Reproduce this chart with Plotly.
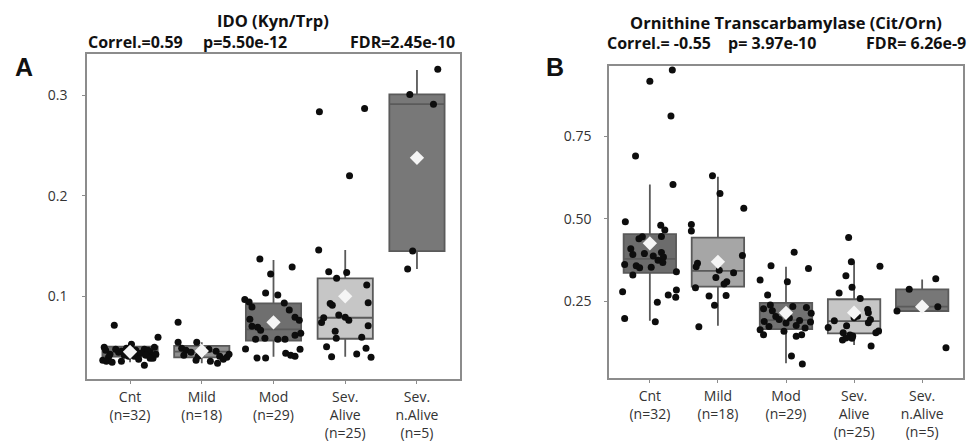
import plotly.graph_objects as go

# ---------------- data ----------------
categories = ["Cnt", "Mild", "Mod", "Sev. Alive", "Sev. n.Alive"]
tick_labels = ["Cnt<br>(n=32)", "Mild<br>(n=18)", "Mod<br>(n=29)",
               "Sev.<br>Alive<br>(n=25)", "Sev.<br>n.Alive<br>(n=5)"]

# Panel A : IDO (Kyn/Trp) box statistics
A_q1 = [0.0396, 0.0390, 0.0556, 0.0575, 0.1448]
A_median = [0.0440, 0.0446, 0.0668, 0.0784, 0.2910]
A_q3 = [0.0496, 0.0503, 0.0927, 0.1176, 0.3007]
A_lower = [0.0340, 0.0330, 0.0396, 0.0396, 0.1270]
A_upper = [0.0550, 0.0540, 0.1360, 0.1458, 0.3250]
A_mean = [0.0445, 0.0453, 0.0738, 0.0997, 0.2376]

# Panel A individual samples (value, horizontal jitter)
A_cnt = [0.071, 0.059, 0.052, 0.049, 0.046, 0.047, 0.045, 0.048, 0.043, 0.047, 0.044,
         0.049, 0.046, 0.042, 0.041, 0.040, 0.043, 0.038, 0.039, 0.045, 0.041, 0.036,
         0.035, 0.034, 0.035, 0.031, 0.037, 0.042, 0.044, 0.040, 0.046, 0.038]
A_cnt_jit = [-0.22, 0.39, 0.02, -0.36, -0.34, -0.20, -0.12, -0.05, 0.10, 0.20, 0.28,
             0.34, 0.25, -0.28, -0.08, 0.06, 0.15, 0.32, -0.30, 0.00, 0.22, -0.38,
             -0.33, -0.25, -0.12, 0.20, 0.12, 0.36, -0.16, -0.02, 0.08, 0.28]
A_mild = [0.074, 0.054, 0.054, 0.048, 0.046, 0.044, 0.041, 0.040, 0.036, 0.043, 0.047,
          0.045, 0.040, 0.037, 0.039, 0.042, 0.033, 0.035]
A_mild_jit = [-0.33, -0.33, -0.07, -0.28, -0.22, -0.15, -0.25, -0.05, -0.08, 0.00, 0.10,
              0.20, 0.25, 0.30, 0.35, 0.38, 0.22, 0.12]
A_mod = [0.137, 0.129, 0.122, 0.103, 0.101, 0.0965, 0.094, 0.093, 0.089, 0.086, 0.079,
         0.077, 0.076, 0.070, 0.069, 0.066, 0.063, 0.061, 0.058, 0.057, 0.057, 0.057,
         0.0473, 0.047, 0.043, 0.041, 0.040, 0.0383, 0.0383]
A_mod_jit = [-0.19, 0.26, -0.04, -0.11, 0.06, -0.40, -0.34, 0.15, -0.30, 0.22, 0.30,
             -0.33, 0.36, -0.30, -0.22, -0.18, 0.38, 0.30, -0.12, -0.25, 0.06, 0.16,
             -0.39, 0.37, 0.17, 0.24, 0.30, -0.23, -0.11]
A_sevA = [0.2834, 0.2867, 0.2197, 0.1458, 0.1242, 0.1235, 0.1176, 0.111, 0.0926, 0.0909,
          0.0932, 0.0812, 0.0789, 0.0785, 0.0736, 0.0703, 0.065, 0.058, 0.059, 0.0496,
          0.048, 0.0423, 0.0396, 0.039, 0.076]
A_sevA_jit = [-0.36, 0.27, 0.06, -0.37, -0.23, 0.02, -0.12, 0.30, -0.21, -0.18,
              0.32, -0.09, 0.00, -0.30, -0.33, 0.32, -0.14, -0.125, 0.23, -0.26,
              0.29, 0.16, -0.19, 0.36, 0.05]
A_sevN = [0.3259, 0.3007, 0.2910, 0.1448, 0.1269]
A_sevN_jit = [0.29, -0.10, 0.23, -0.06, -0.13]

# Panel B : Ornithine Transcarbamylase (Cit/Orn) box statistics
B_q1 = [0.337, 0.295, 0.167, 0.154, 0.2215]
B_median = [0.379, 0.343, 0.194, 0.191, 0.2345]
B_q3 = [0.454, 0.443, 0.246, 0.257, 0.287]
B_lower = [0.192, 0.177, 0.0634, 0.119, 0.2215]
B_upper = [0.604, 0.627, 0.355, 0.370, 0.317]
B_mean = [0.426, 0.370, 0.216, 0.2163, 0.2345]

B_cnt = [0.950, 0.916, 0.811, 0.690, 0.604, 0.491, 0.481, 0.466, 0.446, 0.440, 0.447,
         0.392, 0.395, 0.388, 0.398, 0.385, 0.362, 0.358, 0.352, 0.354, 0.330, 0.340,
         0.280, 0.285, 0.263, 0.270, 0.248, 0.199, 0.189, 0.410, 0.375, 0.368]
B_cnt_jit = [0.33, 0.00, 0.31, -0.21, 0.34, -0.36, 0.16, 0.22, -0.11, -0.16, 0.17,
             -0.25, -0.08, 0.05, 0.17, 0.20, -0.37, -0.20, -0.15, 0.02, -0.25, 0.39,
             -0.40, 0.39, 0.38, 0.27, 0.11, -0.37, 0.08, -0.28, 0.12, 0.19]
B_mild = [0.630, 0.577, 0.532, 0.483, 0.463, 0.389, 0.3656, 0.355, 0.345, 0.337, 0.323,
          0.310, 0.303, 0.292, 0.267, 0.268, 0.239, 0.174]
B_mild_jit = [-0.08, 0.03, 0.38, -0.39, -0.39, 0.36, -0.30, -0.32, 0.02, 0.23, -0.03,
              0.13, 0.09, -0.33, -0.13, 0.12, -0.05, -0.28]
B_mod = [0.399, 0.358, 0.350, 0.315, 0.310, 0.270, 0.240, 0.235, 0.232, 0.228, 0.222,
         0.215, 0.205, 0.200, 0.196, 0.193, 0.190, 0.188, 0.185, 0.178, 0.175, 0.170,
         0.165, 0.160, 0.150, 0.150, 0.145, 0.0855, 0.061]
B_mod_jit = [0.12, -0.22, 0.33, -0.38, 0.02, -0.27, -0.23, 0.10, 0.30, -0.33, -0.20,
             0.37, -0.15, 0.05, -0.10, 0.20, -0.32, 0.36, 0.00, 0.15, -0.25, 0.28,
             -0.38, -0.03, -0.33, 0.23, 0.15, 0.08, 0.24]
B_sevA = [0.444, 0.370, 0.357, 0.328, 0.293, 0.276, 0.259, 0.226, 0.216, 0.196, 0.186,
          0.206, 0.172, 0.192, 0.177, 0.161, 0.156, 0.156, 0.149, 0.146, 0.134, 0.139,
          0.116, 0.140, 0.201]
B_sevA_jit = [-0.08, -0.04, 0.38, -0.12, -0.03, -0.22, 0.09, 0.20, 0.21, 0.24, 0.21,
              0.05, -0.38, -0.29, -0.11, 0.36, 0.32, -0.16, -0.06, -0.02, -0.17, -0.03,
              0.25, -0.12, 0.00]
B_sevN = [0.287, 0.319, 0.2215, 0.2345, 0.1106]
B_sevN_jit = [-0.19, 0.20, -0.37, 0.23, 0.35]

A_fill = ["#707070", "#8f8f8f", "#6f6f6f", "#c6c6c6", "#787878"]
B_fill = ["#6c6c6c", "#a6a6a6", "#727272", "#c6c6c6", "#777777"]

# ---------------- figure ----------------
W, H = 978, 446
fig = go.Figure()

FONT = "Open Sans"


def add_panel(xa, ya, q1, med, q3, lo, up, mean, fills, groups):
    for i in range(len(categories)):
        fig.add_trace(go.Box(
            x=[i], q1=[q1[i]], median=[med[i]], q3=[q3[i]],
            lowerfence=[lo[i]], upperfence=[up[i]],
            width=0.77, whiskerwidth=0,
            fillcolor=fills[i], line=dict(color="#5a5a5a", width=1.8),
            boxpoints=False, showlegend=False, hoverinfo="skip",
            xaxis=xa, yaxis=ya))
    xs, ys = [], []
    for i, (vals, jit) in enumerate(groups):
        xs += [i + j for j in jit]
        ys += list(vals)
    fig.add_trace(go.Scatter(
        x=xs, y=ys, mode="markers",
        marker=dict(color="#0d0d0d", size=7),
        showlegend=False, hoverinfo="skip", xaxis=xa, yaxis=ya))
    fig.add_trace(go.Scatter(
        x=list(range(len(categories))), y=mean, mode="markers",
        marker=dict(symbol="diamond", color="#f5f5f5", size=11, line=dict(width=0)),
        showlegend=False, hoverinfo="skip", xaxis=xa, yaxis=ya))


add_panel("x", "y", A_q1, A_median, A_q3, A_lower, A_upper, A_mean, A_fill,
          [(A_cnt, A_cnt_jit), (A_mild, A_mild_jit), (A_mod, A_mod_jit),
           (A_sevA, A_sevA_jit), (A_sevN, A_sevN_jit)])
add_panel("x2", "y2", B_q1, B_median, B_q3, B_lower, B_upper, B_mean, B_fill,
          [(B_cnt, B_cnt_jit), (B_mild, B_mild_jit), (B_mod, B_mod_jit),
           (B_sevA, B_sevA_jit), (B_sevN, B_sevN_jit)])

axis_common = dict(showline=True, mirror=True, linecolor="#8c8c8c", linewidth=1.5,
                   showgrid=False, zeroline=False, ticks="outside", ticklen=3,
                   tickcolor="#8c8c8c", tickfont=dict(family=FONT, size=14, color="#333333"))

fig.update_layout(
    width=W, height=H,
    margin=dict(l=0, r=0, t=0, b=0),
    plot_bgcolor="white", paper_bgcolor="white",
    xaxis=dict(domain=[87 / W, 460 / W], range=[-0.6, 4.6], anchor="y",
               tickvals=list(range(5)), ticktext=tick_labels, ticklabelstandoff=1,
               **axis_common),
    yaxis=dict(domain=[1 - 379 / H, 1 - 54 / H], range=[0.0174, 0.341], anchor="x",
               tickvals=[0.1, 0.2, 0.3], ticktext=["0.1", "0.2", "0.3"],
               ticklabelstandoff=12, **axis_common),
    xaxis2=dict(domain=[609 / W, 963 / W], range=[-0.6, 4.6], anchor="y2",
                tickvals=list(range(5)), ticktext=tick_labels, ticklabelstandoff=1,
                **axis_common),
    yaxis2=dict(domain=[1 - 378 / H, 1 - 66 / H], range=[0.019, 0.962], anchor="x2",
                tickvals=[0.25, 0.5, 0.75], ticktext=["0.25", "0.50", "0.75"],
                ticklabelstandoff=10, **axis_common),
)


def ann(text, x, y, size=14, bold=False, family=FONT, color="#111111"):
    fig.add_annotation(
        text=f"<b>{text}</b>" if bold else text,
        x=x / W, y=1 - y / H, xref="paper", yref="paper",
        xanchor="center", yanchor="middle", showarrow=False, borderpad=0,
        font=dict(family=family, size=size, color=color))


ann("IDO (Kyn/Trp)", 273, 20, size=16.5, bold=True)
ann("Correl.=0.59", 135, 42, size=16, bold=True)
ann("p=5.50e-12", 245, 42, size=16, bold=True)
ann("FDR=2.45e-10", 402, 42, size=16, bold=True)
ann("A", 24, 67, size=25, bold=True, family="Liberation Sans")

ann("Ornithine Transcarbamylase (Cit/Orn)", 786, 22, size=16.5, bold=True)
ann("Correl.= -0.55", 659, 43, size=16, bold=True)
ann("p= 3.97e-10", 772, 43, size=16, bold=True)
ann("FDR= 6.26e-9", 916, 43, size=16, bold=True)
ann("B", 555, 67, size=25, bold=True, family="Liberation Sans")

fig.write_html(
    "out.html",
    config={"displayModeBar": False},
    post_script="document.body.style.margin='0';document.body.style.overflow='hidden';",
)
